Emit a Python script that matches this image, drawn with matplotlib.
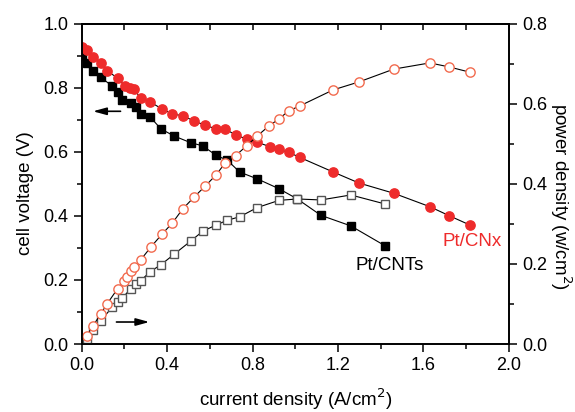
"""Cell voltage and power density vs current density for Pt/CNTs and Pt/CNx."""

import matplotlib
matplotlib.use("Agg")
import matplotlib.pyplot as plt
from matplotlib.ticker import MultipleLocator

plt.rcParams["font.family"] = ["Liberation Sans", "DejaVu Sans"]

# Pt/CNTs
cnt_current = [0.003, 0.024, 0.054, 0.089, 0.143, 0.168, 0.189, 0.229, 0.256,
               0.276, 0.321, 0.371, 0.432, 0.51, 0.567, 0.628, 0.682, 0.74,
               0.822, 0.924, 1.01, 1.12, 1.26, 1.42]
cnt_voltage = [0.9, 0.877, 0.854, 0.833, 0.806, 0.788, 0.763, 0.754, 0.74,
               0.718, 0.709, 0.672, 0.65, 0.629, 0.619, 0.59, 0.574, 0.537,
               0.516, 0.485, 0.453, 0.402, 0.369, 0.307]
cnt_power_current = [0.024, 0.054, 0.089, 0.143, 0.168, 0.189, 0.229, 0.256,
                     0.276, 0.321, 0.371, 0.432, 0.51, 0.567, 0.628, 0.68,
                     0.74, 0.822, 0.924, 1.01, 1.12, 1.26, 1.42]
cnt_power = [0.0125, 0.034, 0.058, 0.092, 0.106, 0.114, 0.138, 0.149, 0.158,
             0.181, 0.198, 0.224, 0.257, 0.282, 0.297, 0.309, 0.318, 0.341,
             0.359, 0.3625, 0.36, 0.3725, 0.35]

# Pt/CNx
cnx_current = [0.003, 0.026, 0.054, 0.089, 0.12, 0.168, 0.203, 0.226, 0.243,
               0.276, 0.321, 0.377, 0.423, 0.473, 0.526, 0.579, 0.63, 0.671,
               0.721, 0.774, 0.822, 0.88, 0.922, 0.969, 1.021, 1.177, 1.298,
               1.461, 1.63, 1.72, 1.82]
cnx_voltage = [0.929, 0.917, 0.898, 0.878, 0.853, 0.831, 0.806, 0.801, 0.797,
               0.769, 0.756, 0.734, 0.719, 0.713, 0.697, 0.683, 0.672, 0.672,
               0.653, 0.64, 0.63, 0.617, 0.608, 0.599, 0.583, 0.5375, 0.503,
               0.471, 0.429, 0.401, 0.371]
cnx_power_current = [0.024, 0.054, 0.089, 0.12, 0.168, 0.2, 0.211, 0.229,
                     0.243, 0.276, 0.325, 0.377, 0.424, 0.473, 0.526, 0.579,
                     0.63, 0.671, 0.721, 0.774, 0.822, 0.877, 0.922, 0.969,
                     1.021, 1.177, 1.298, 1.461, 1.63, 1.72, 1.82]
cnx_power = [0.021, 0.046, 0.075, 0.101, 0.138, 0.158, 0.167, 0.183, 0.192,
             0.21, 0.243, 0.275, 0.302, 0.3375, 0.367, 0.395, 0.423, 0.452,
             0.471, 0.496, 0.52, 0.545, 0.562, 0.5825, 0.595, 0.635, 0.655,
             0.687, 0.7025, 0.6925, 0.679]

RED = "#ee2b2b"
SALMON = "#f26b4f"
FONT = 13.5

figure = plt.figure(figsize=(5.75, 4.12), dpi=100)
axis = figure.add_axes([0.142, 0.165, 0.743, 0.777])
power_axis = axis.twinx()

line_style = dict(color="black", linewidth=0.8)
axis.plot(cnt_current, cnt_voltage, marker="s", markersize=5.2,
          markerfacecolor="black", markeredgecolor="black", **line_style)
axis.plot(cnx_current, cnx_voltage, marker="o", markersize=6.7,
          markerfacecolor=RED, markeredgecolor=RED, **line_style)
power_axis.plot(cnt_power_current, cnt_power, marker="s", markersize=5.2,
                markerfacecolor="white", markeredgecolor="#555555",
                markeredgewidth=1.0, **line_style)
power_axis.plot(cnx_power_current, cnx_power, marker="o", markersize=6.7,
                markerfacecolor="white", markeredgecolor=SALMON,
                markeredgewidth=1.0, **line_style)

axis.set_xlim(0, 2.0)
axis.set_ylim(0, 1.0)
power_axis.set_ylim(0, 0.8)

axis.xaxis.set_major_locator(MultipleLocator(0.4))
axis.xaxis.set_minor_locator(MultipleLocator(0.2))
axis.yaxis.set_major_locator(MultipleLocator(0.2))
axis.yaxis.set_minor_locator(MultipleLocator(0.1))
power_axis.yaxis.set_major_locator(MultipleLocator(0.2))
power_axis.yaxis.set_minor_locator(MultipleLocator(0.1))

for ax in (axis, power_axis):
    for spine in ax.spines.values():
        spine.set_linewidth(1.2)
axis.tick_params(which="both", direction="out", labelsize=13, width=1.1,
                 top=False)
axis.tick_params(which="major", length=6)
axis.tick_params(which="minor", length=3.5)
power_axis.tick_params(which="both", direction="out", labelsize=13,
                       width=1.1)
power_axis.tick_params(which="major", length=6)
power_axis.tick_params(which="minor", length=3.5)
axis.xaxis.set_major_formatter(plt.FuncFormatter(lambda v, _: f"{v:.1f}"))
axis.yaxis.set_major_formatter(plt.FuncFormatter(lambda v, _: f"{v:.1f}"))
power_axis.yaxis.set_major_formatter(
    plt.FuncFormatter(lambda v, _: f"{v:.1f}"))

# inward ticks along the top edge
top = axis.secondary_xaxis("top")
top.xaxis.set_major_locator(MultipleLocator(0.2))
top.tick_params(direction="in", length=4, width=1.1, labeltop=False)
top.spines["top"].set_linewidth(1.2)

axis.set_xlabel("current density (A/cm$^2$)", fontsize=FONT, labelpad=9)
axis.set_ylabel("cell voltage (V)", fontsize=FONT, labelpad=7)
power_axis.set_ylabel("power density (w/cm$^2$)", fontsize=FONT,
                      rotation=270, labelpad=19)
axis.yaxis.label.set_y(0.47)
power_axis.yaxis.label.set_y(0.46)

arrow = dict(arrowstyle="-|>,head_length=0.8,head_width=0.22",
             color="black", lw=1.2, mutation_scale=10)
axis.annotate("", xy=(0.04, 0.727), xytext=(0.195, 0.727), arrowprops=arrow)
power_axis.annotate("", xy=(0.33, 0.055), xytext=(0.15, 0.055),
                    arrowprops=arrow)

axis.text(1.44, 0.245, "Pt/CNTs", fontsize=FONT, color="black",
          ha="center", va="center")
axis.text(1.83, 0.32, "Pt/CNx", fontsize=FONT, color=RED,
          ha="center", va="center")

figure.savefig("out.png", dpi=100)
